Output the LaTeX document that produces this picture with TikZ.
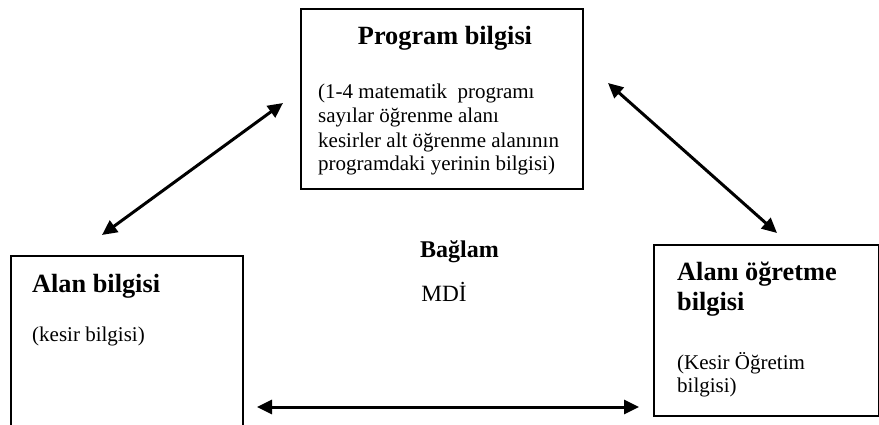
\documentclass[tikz,border=0pt]{standalone}
\usepackage{fontspec}
\setmainfont{Liberation Serif}
\usetikzlibrary{arrows.meta}
\tikzset{
  panel/.style={draw, line width=1.7pt, anchor=north west, inner sep=0pt},
  heading/.style={anchor=base west, inner sep=0pt, font=\fontsize{26.3}{30}\selectfont\bfseries},
  bodytext/.style={anchor=base west, inner sep=0pt, align=left, font=\fontsize{21}{24}\selectfont},
  link/.style={line width=3pt, {Triangle[length=15pt,width=14pt]}-{Triangle[length=15pt,width=14pt]}}
}
\begin{document}
\begin{tikzpicture}[x=1pt,y=-1pt]
\useasboundingbox (0,0) rectangle (879,425);
\clip (0,0) rectangle (879,425);
\fill[white] (0,0) rectangle (879,425);

% three knowledge panels
\node[panel, minimum width=282pt, minimum height=180pt] (prog) at (300,8) {};
\node[panel, minimum width=232pt, minimum height=200pt] (alan) at (10,255) {};
\node[panel, minimum width=225pt, minimum height=171pt] (ogr) at (653,244) {};

% panel texts
\node[heading, anchor=base] (progT) at (445,45) {Program bilgisi};
\node[bodytext] (progB1) at (318,99) {(1-4 matematik\ \ programı};
\node[bodytext] (progB2) at (318,123) {sayılar öğrenme alanı};
\node[bodytext] (progB3) at (318,148) {kesirler alt öğrenme alanının};
\node[bodytext] (progB4) at (318,171) {programdaki yerinin bilgisi)};

\node[heading] (alanT) at (32,292) {Alan bilgisi};
\node[bodytext] (alanB) at (32,341) {(kesir bilgisi)};

\node[heading] (ogrT1) at (677,280) {Alanı öğretme};
\node[heading] (ogrT2) at (677,310) {bilgisi};
\node[bodytext] (ogrB1) at (677,369) {(Kesir Öğretim};
\node[bodytext] (ogrB2) at (677,392) {bilgisi)};

% context in the middle
\node[anchor=base, inner sep=0pt, font=\fontsize{24}{28}\selectfont\bfseries] (baglam) at (459.5,258) {Bağlam};
\node[anchor=base, inner sep=0pt, font=\fontsize{23.3}{27}\selectfont] (mdi) at (444,301) {MDİ};

% arrow ends
\coordinate (lA) at (102,235);
\coordinate (lB) at (283,103);
\coordinate (rA) at (608,83);
\coordinate (rB) at (777,233);
\coordinate (bA) at (257,407);
\coordinate (bB) at (639,407);

\draw[link] (lA) -- (lB);
\draw[link] (rA) -- (rB);
\draw[link] (bA) -- (bB);
\end{tikzpicture}
\end{document}
